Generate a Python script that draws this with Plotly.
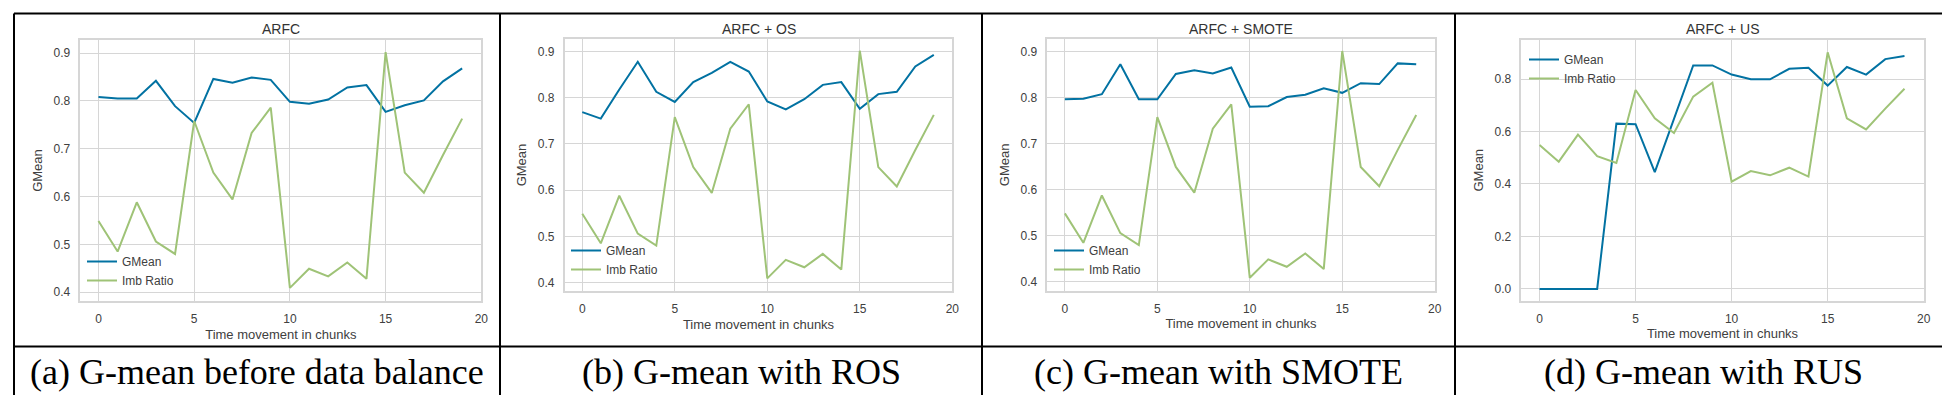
import plotly.graph_objects as go

W, H = 1950, 395

chunks = list(range(20))
imb_ratio = [0.549, 0.485, 0.588, 0.506, 0.480, 0.758, 0.650, 0.594, 0.733, 0.786,
             0.409, 0.449, 0.433, 0.462, 0.428, 0.902, 0.650, 0.608, 0.687, 0.763]
gmean_arfc = [0.808, 0.805, 0.805, 0.842, 0.789, 0.754, 0.846, 0.838, 0.849, 0.844,
              0.798, 0.794, 0.803, 0.828, 0.833, 0.777, 0.791, 0.801, 0.841, 0.868]
gmean_os = [0.769, 0.755, 0.818, 0.878, 0.813, 0.791, 0.834, 0.854, 0.878, 0.857,
            0.792, 0.775, 0.797, 0.828, 0.834, 0.776, 0.808, 0.813, 0.868, 0.893]
gmean_smote = [0.797, 0.798, 0.808, 0.873, 0.797, 0.797, 0.852, 0.860, 0.853, 0.866,
               0.781, 0.782, 0.802, 0.807, 0.821, 0.811, 0.832, 0.830, 0.875, 0.873]
gmean_us = [0.0, 0.0, 0.0, 0.0, 0.630, 0.628, 0.445, 0.648, 0.852, 0.852,
            0.817, 0.799, 0.799, 0.839, 0.843, 0.775, 0.846, 0.817, 0.876, 0.888]

titles = ["ARFC", "ARFC + OS", "ARFC + SMOTE", "ARFC + US"]
captions = ["(a) G-mean before data balance", "(b) G-mean with ROS",
            "(c) G-mean with SMOTE", "(d) G-mean with RUS"]
series = [gmean_arfc, gmean_os, gmean_smote, gmean_us]
xticks = [0, 5, 10, 15, 20]
xlabel = "Time movement in chunks"
ylabel = "GMean"

BLUE = "#0272a2"
GREEN = "#9fc377"
TXT = "#404040"
GRID = "#d6d6d6"
SANS = "Liberation Sans, Arial, sans-serif"
SERIF = "Liberation Serif, Times New Roman, serif"

# plot areas in pixels: (left, right, top, bottom)
areas = [(72.3, 473.3, 31.7, 293.3),
         (556.7, 944.3, 30.7, 283.3),
         (1039.3, 1426.7, 31.0, 282.7),
         (1513.3, 1915.7, 31.7, 292.7)]
yranges = [[0.381, 0.928], [0.381, 0.928], [0.381, 0.928], [-0.045, 0.95]]
ydticks = [0.1, 0.1, 0.1, 0.2]
# legend (left px, anchor y px, anchor)
legends = [(74, 287, "bottom"), (558, 276, "bottom"), (1041, 276, "bottom"), (1516, 37, "top")]
cells = [(6, 492), (492, 974), (974, 1447), (1447, 1943)]

def px(x):
    return x / W

def py(y):
    return 1 - y / H

fig = go.Figure()
layout = dict(width=W, height=H, margin=dict(l=0, r=0, t=0, b=0),
              paper_bgcolor="white", plot_bgcolor="white",
              font=dict(family=SANS, color=TXT, size=12))
annotations = []
shapes = []

for i in range(4):
    n = "" if i == 0 else str(i + 1)
    xa, ya = "x" + n, "y" + n
    lg = "legend" + n
    fig.add_trace(go.Scatter(x=chunks, y=series[i], mode="lines", name="GMean",
                             line=dict(color=BLUE, width=2), xaxis=xa, yaxis=ya,
                             legend=lg))
    fig.add_trace(go.Scatter(x=chunks, y=imb_ratio, mode="lines", name="Imb Ratio",
                             line=dict(color=GREEN, width=2), xaxis=xa, yaxis=ya,
                             legend=lg))
    l, r, t, b = areas[i]
    common = dict(showgrid=True, gridcolor=GRID, gridwidth=1, showline=True,
                  linecolor=GRID, linewidth=1.5, mirror=True, zeroline=False,
                  ticks="outside", tickcolor="rgba(0,0,0,0)", ticklen=6,
                  tickfont=dict(family=SANS, size=12, color=TXT))
    layout["xaxis" + n] = dict(domain=[px(l), px(r)], range=[-0.95, 20.0],
                               tickvals=xticks, anchor=ya,
                               title=dict(text=xlabel, standoff=4,
                                          font=dict(family=SANS, size=13, color=TXT)),
                               automargin=False, **common)
    layout["yaxis" + n] = dict(domain=[py(b), py(t)], range=yranges[i],
                               dtick=ydticks[i], tick0=0, tickformat=".1f", anchor=xa,
                               title=dict(text=ylabel, standoff=8,
                                          font=dict(family=SANS, size=13, color=TXT)),
                               automargin=False, **common)
    lx, lyp, anc = legends[i]
    layout[lg] = dict(x=px(lx), y=py(lyp), xanchor="left", yanchor=anc,
                      bgcolor="rgba(0,0,0,0)", borderwidth=0,
                      font=dict(family=SANS, size=12, color=TXT),
                      tracegroupgap=0, itemwidth=30)
    annotations.append(dict(text=titles[i], x=px((l + r) / 2), y=py(20.7),
                            xref="paper", yref="paper", showarrow=False,
                            xanchor="center", yanchor="middle",
                            font=dict(family=SANS, size=14, color="#333333")))
    c0, c1 = cells[i]
    annotations.append(dict(text=captions[i], x=px((c0 + c1) / 2), y=py(364),
                            xref="paper", yref="paper", showarrow=False,
                            xanchor="center", yanchor="middle",
                            font=dict(family=SERIF, size=36, color="black")))

# table borders
for xv in [6, 492, 974, 1447, 1943]:
    shapes.append(dict(type="line", xref="paper", yref="paper", x0=px(xv), x1=px(xv),
                       y0=py(5.5), y1=py(388.5), line=dict(color="black", width=2)))
for yv in [5.5, 338.5, 388.5]:
    shapes.append(dict(type="line", xref="paper", yref="paper", x0=px(6), x1=px(1943),
                       y0=py(yv), y1=py(yv), line=dict(color="black", width=2)))

layout["annotations"] = annotations
layout["shapes"] = shapes
fig.update_layout(**layout)
fig.write_html("out.html")
